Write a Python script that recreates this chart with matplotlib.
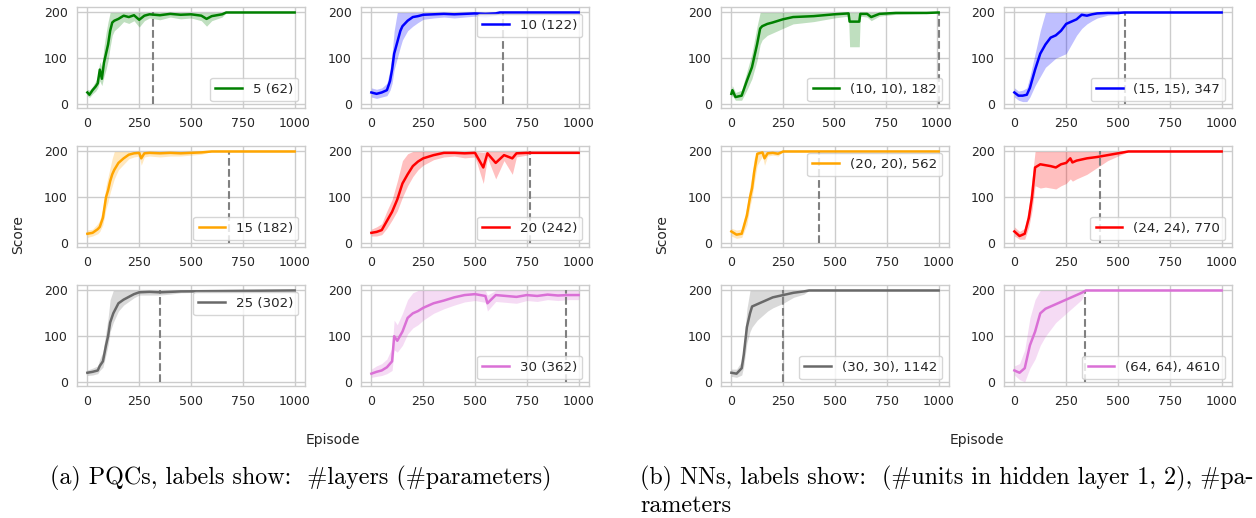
import matplotlib
matplotlib.use("Agg")
import matplotlib.pyplot as plt

# ---- PQC runs: episode knots, mean score, band low / high ----
pqc5_ep = [0, 10, 25, 40, 50, 60, 70, 80, 90, 100, 110, 120, 130, 150, 175, 200, 225, 250, 275, 300, 350, 400, 450, 500, 550, 575, 600, 650, 670, 1000]
pqc5_mean = [25, 20, 30, 38, 45, 75, 55, 90, 110, 130, 160, 178, 182, 186, 193, 190, 194, 184, 193, 196, 194, 197, 195, 196, 193, 186, 192, 196, 200, 200]
pqc5_lo = [18, 14, 22, 28, 35, 50, 40, 60, 75, 95, 125, 150, 160, 168, 180, 176, 182, 168, 182, 188, 184, 190, 186, 188, 182, 170, 182, 190, 200, 200]
pqc5_hi = [32, 30, 38, 50, 62, 92, 80, 125, 155, 180, 200, 200, 200, 200, 200, 200, 200, 200, 200, 200, 200, 200, 200, 200, 200, 200, 200, 200, 200, 200]

pqc10_ep = [0, 25, 50, 75, 90, 100, 110, 125, 140, 150, 175, 200, 225, 250, 300, 350, 400, 450, 500, 550, 600, 620, 1000]
pqc10_mean = [25, 22, 25, 30, 50, 75, 110, 135, 160, 170, 182, 190, 192, 195, 196, 197, 196, 197, 198, 197, 198, 200, 200]
pqc10_lo = [15, 12, 15, 18, 30, 45, 75, 100, 125, 140, 160, 170, 178, 185, 188, 190, 188, 190, 192, 190, 194, 200, 200]
pqc10_hi = [35, 32, 35, 45, 75, 110, 160, 200, 200, 200, 200, 200, 200, 200, 200, 200, 200, 200, 200, 200, 200, 200, 200]

pqc15_ep = [0, 25, 50, 60, 75, 90, 100, 110, 120, 130, 150, 175, 200, 225, 250, 260, 275, 300, 350, 400, 450, 500, 550, 600, 1000]
pqc15_mean = [20, 22, 30, 35, 55, 100, 115, 135, 150, 160, 175, 185, 193, 196, 197, 185, 196, 197, 196, 197, 196, 197, 198, 200, 200]
pqc15_lo = [12, 15, 20, 25, 40, 75, 90, 110, 125, 140, 160, 172, 184, 188, 190, 170, 188, 190, 188, 190, 190, 192, 194, 200, 200]
pqc15_hi = [28, 30, 42, 50, 75, 125, 145, 165, 185, 200, 200, 200, 200, 200, 200, 200, 200, 200, 200, 200, 200, 200, 200, 200, 200]

pqc20_ep = [0, 25, 50, 75, 100, 125, 150, 175, 200, 225, 250, 300, 350, 400, 450, 500, 540, 560, 600, 640, 680, 700, 750, 780, 1000]
pqc20_mean = [22, 24, 28, 48, 68, 95, 130, 150, 168, 178, 185, 192, 197, 197, 196, 197, 165, 196, 175, 192, 185, 196, 197, 197, 197]
pqc20_lo = [15, 15, 18, 32, 50, 70, 100, 125, 145, 160, 170, 182, 188, 190, 186, 188, 130, 186, 140, 180, 150, 188, 192, 197, 197]
pqc20_hi = [30, 35, 42, 70, 95, 135, 180, 195, 200, 200, 200, 200, 200, 200, 200, 200, 198, 200, 200, 200, 200, 200, 200, 197, 197]

pqc25_ep = [0, 25, 50, 60, 75, 90, 100, 110, 125, 150, 175, 200, 225, 250, 300, 350, 400, 450, 1000]
pqc25_mean = [20, 22, 25, 35, 45, 80, 100, 130, 150, 172, 180, 186, 192, 196, 197, 196, 197, 198, 200]
pqc25_lo = [14, 15, 18, 25, 32, 60, 80, 110, 130, 155, 168, 176, 184, 190, 190, 190, 192, 195, 200]
pqc25_hi = [26, 30, 35, 50, 65, 110, 140, 180, 200, 200, 200, 200, 200, 200, 200, 200, 200, 200, 200]

pqc30_ep = [0, 25, 50, 75, 100, 110, 125, 150, 175, 200, 225, 250, 300, 350, 400, 450, 500, 550, 560, 600, 650, 700, 750, 800, 850, 900, 950, 1000]
pqc30_mean = [18, 22, 25, 32, 45, 100, 90, 110, 140, 150, 155, 162, 172, 178, 185, 190, 192, 188, 172, 190, 188, 186, 190, 188, 191, 189, 190, 190]
pqc30_lo = [10, 12, 14, 18, 25, 70, 65, 80, 105, 118, 125, 135, 150, 160, 168, 175, 178, 174, 155, 176, 174, 172, 178, 176, 180, 178, 180, 180]
pqc30_hi = [28, 35, 40, 50, 75, 135, 125, 150, 180, 195, 200, 200, 200, 200, 200, 200, 200, 200, 190, 200, 200, 200, 200, 200, 200, 200, 200, 200]

# ---- NN runs ----
nn10_ep = [0, 5, 20, 50, 75, 100, 125, 140, 150, 175, 200, 250, 300, 400, 500, 570, 575, 622, 627, 660, 680, 720, 800, 950, 1008]
nn10_mean = [22, 30, 15, 18, 50, 80, 130, 165, 170, 175, 178, 185, 190, 192, 196, 198, 180, 180, 197, 197, 190, 197, 199, 199, 200]
nn10_lo = [15, 18, 8, 8, 30, 55, 95, 130, 140, 150, 155, 165, 175, 180, 188, 192, 125, 125, 192, 190, 182, 192, 196, 198, 200]
nn10_hi = [30, 40, 25, 30, 70, 110, 170, 200, 200, 200, 200, 200, 200, 200, 200, 200, 200, 200, 200, 200, 200, 200, 200, 200, 200]

nn15_ep = [0, 20, 40, 60, 75, 100, 125, 150, 175, 200, 225, 250, 275, 300, 325, 350, 375, 400, 450, 500, 530, 1000]
nn15_mean = [25, 18, 18, 20, 35, 75, 110, 130, 145, 150, 160, 175, 180, 185, 195, 193, 196, 198, 199, 199, 200, 200]
nn15_lo = [15, 8, 5, 5, 15, 40, 60, 80, 90, 100, 105, 110, 130, 150, 165, 175, 182, 188, 194, 196, 200, 200]
nn15_hi = [35, 28, 30, 35, 60, 110, 160, 200, 200, 200, 200, 200, 200, 200, 200, 200, 200, 200, 200, 200, 200, 200]

nn20_ep = [0, 25, 50, 75, 90, 100, 110, 125, 150, 160, 175, 200, 225, 250, 1000]
nn20_mean = [25, 18, 20, 60, 100, 120, 155, 195, 198, 185, 196, 197, 195, 200, 200]
nn20_lo = [15, 10, 12, 40, 80, 100, 130, 170, 190, 170, 190, 192, 190, 200, 200]
nn20_hi = [32, 28, 30, 80, 125, 150, 185, 200, 200, 200, 200, 200, 200, 200, 200]

nn24_ep = [0, 25, 50, 70, 85, 100, 125, 150, 175, 200, 225, 250, 270, 280, 300, 350, 400, 450, 500, 550, 1000]
nn24_mean = [25, 15, 20, 55, 100, 165, 172, 170, 168, 165, 172, 175, 185, 176, 180, 185, 188, 192, 196, 200, 200]
nn24_lo = [15, 8, 8, 35, 70, 125, 120, 122, 120, 118, 125, 130, 140, 135, 140, 150, 165, 180, 190, 200, 200]
nn24_hi = [35, 25, 32, 80, 140, 200, 200, 200, 200, 200, 200, 200, 200, 200, 200, 200, 200, 200, 200, 200, 200]

nn30_ep = [0, 25, 50, 60, 75, 90, 100, 125, 150, 175, 200, 250, 300, 350, 375, 1000]
nn30_mean = [20, 18, 30, 60, 120, 150, 165, 170, 175, 180, 185, 190, 195, 198, 200, 200]
nn30_lo = [12, 10, 15, 35, 85, 110, 120, 135, 145, 155, 162, 172, 185, 192, 200, 200]
nn30_hi = [28, 28, 45, 85, 160, 200, 200, 200, 200, 200, 200, 200, 200, 200, 200, 200]

nn64_ep = [0, 25, 50, 75, 100, 125, 150, 175, 200, 225, 250, 275, 300, 325, 345, 1000]
nn64_mean = [25, 20, 30, 80, 110, 150, 160, 165, 170, 175, 180, 185, 190, 195, 200, 200]
nn64_lo = [15, 5, 0, 30, 50, 80, 100, 115, 130, 140, 150, 160, 170, 180, 200, 200]
nn64_hi = [35, 40, 70, 140, 180, 200, 200, 200, 200, 200, 200, 200, 200, 200, 200, 200]

labels = ["5 (62)", "10 (122)", "15 (182)", "20 (242)", "25 (302)", "30 (362)",
          "(10, 10), 182", "(15, 15), 347", "(20, 20), 562", "(24, 24), 770",
          "(30, 30), 1142", "(64, 64), 4610"]
solved_at = [317, 633, 683, 763, 351, 937, 1008, 532, 424, 413, 247, 343]

runs = [
    (pqc5_ep, pqc5_mean, pqc5_lo, pqc5_hi),
    (pqc10_ep, pqc10_mean, pqc10_lo, pqc10_hi),
    (pqc15_ep, pqc15_mean, pqc15_lo, pqc15_hi),
    (pqc20_ep, pqc20_mean, pqc20_lo, pqc20_hi),
    (pqc25_ep, pqc25_mean, pqc25_lo, pqc25_hi),
    (pqc30_ep, pqc30_mean, pqc30_lo, pqc30_hi),
    (nn10_ep, nn10_mean, nn10_lo, nn10_hi),
    (nn15_ep, nn15_mean, nn15_lo, nn15_hi),
    (nn20_ep, nn20_mean, nn20_lo, nn20_hi),
    (nn24_ep, nn24_mean, nn24_lo, nn24_hi),
    (nn30_ep, nn30_mean, nn30_lo, nn30_hi),
    (nn64_ep, nn64_mean, nn64_lo, nn64_hi),
]
colors = ["green", "blue", "orange", "red", "dimgray", "orchid"] * 2
legend_loc = ["lower right", "upper right", "lower right", "lower right", "upper right", "lower right",
              "lower right", "lower right", "upper right", "lower right", "lower right", "lower right"]

plt.rcParams.update({
    "font.family": "DejaVu Sans",
    "text.color": "0.15",
    "axes.edgecolor": "0.8",
    "axes.linewidth": 1.0,
    "xtick.color": "0.15",
    "ytick.color": "0.15",
    "xtick.labelsize": 9,
    "ytick.labelsize": 9,
    "xtick.major.size": 0,
    "ytick.major.size": 0,
    "xtick.major.pad": 6.5,
    "ytick.major.pad": 6.5,
    "grid.color": "0.8",
    "grid.linewidth": 1.0,
    "legend.fontsize": 9.6,
    "legend.edgecolor": "0.8",
})

W, H = 1256, 518
fig = plt.figure(figsize=(W / 100, H / 100), dpi=100)

col_x = [77, 361, 721, 1004]
row_top = [7, 146, 285]
aw, ah = 228, 101

for i, (ep, mean, lo, hi) in enumerate(runs):
    group = i // 6
    k = i % 6
    r, c = k // 2, k % 2
    x0 = col_x[group * 2 + c]
    y0 = row_top[r]
    ax = fig.add_axes([x0 / W, 1 - (y0 + ah) / H, aw / W, ah / H])
    ax.grid(True)
    ax.set_axisbelow(True)
    ax.fill_between(ep, lo, hi, color=colors[i], alpha=0.25, linewidth=0)
    ax.vlines(solved_at[i], 0, 200, colors="gray", linestyles="--", linewidth=1.5, zorder=2)
    ax.plot(ep, mean, color=colors[i], linewidth=1.8, label=labels[i], zorder=3)
    ax.set_ylim(-9, 212)
    ax.set_xticks([0, 250, 500, 750, 1000])
    ax.set_yticks([0, 100, 200])
    ax.legend(loc=legend_loc[i], fancybox=True, framealpha=0.8)

for gx in [0, 644]:
    fig.text((18 + gx) / W, 1 - 235 / H, "Score", rotation=90, ha="center", va="center", fontsize=10)
fig.text(333 / W, 1 - 440 / H, "Episode", ha="center", va="center", fontsize=10)
fig.text(977 / W, 1 - 440 / H, "Episode", ha="center", va="center", fontsize=10)

cap_font = ["cmr10", "DejaVu Serif"]
fig.text(50 / W, 1 - 478 / H, "(a) PQCs, labels show:  #layers (#parameters)",
         ha="left", va="center", fontsize=17.3, family=cap_font, color="black")
fig.text(640 / W, 1 - 478 / H, "(b) NNs, labels show:  (#units in hidden layer 1, 2), #pa-",
         ha="left", va="center", fontsize=17.3, family=cap_font, color="black")
fig.text(640 / W, 1 - 506 / H, "rameters",
         ha="left", va="center", fontsize=17.3, family=cap_font, color="black")

fig.savefig("out.png", dpi=100)
